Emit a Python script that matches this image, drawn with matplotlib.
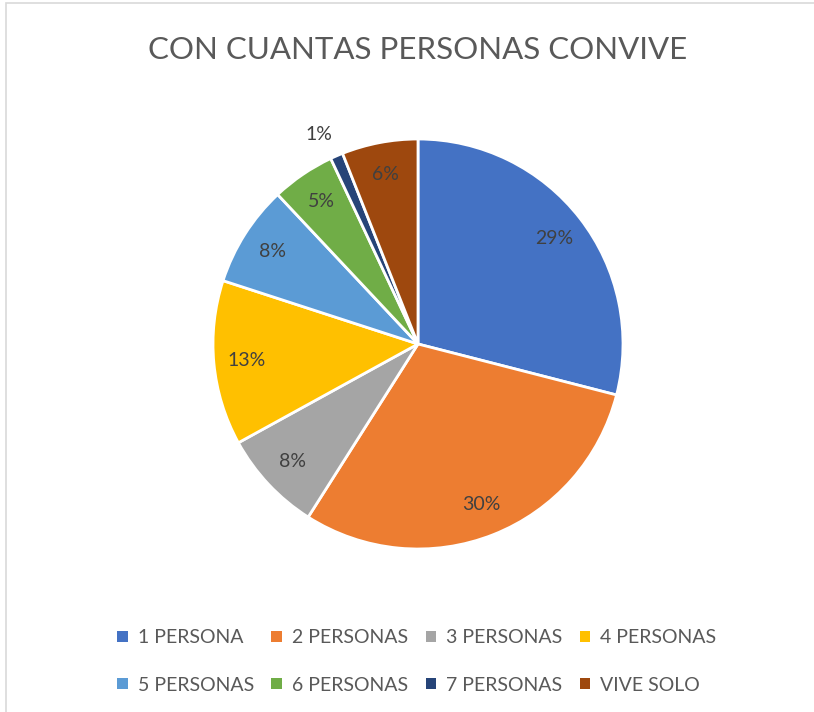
import matplotlib.pyplot as plt
from matplotlib.patches import Rectangle
import numpy as np

plt.rcParams['font.family'] = ['Lato', 'DejaVu Sans']

categorias = ['1 PERSONA', '2 PERSONAS', '3 PERSONAS', '4 PERSONAS',
              '5 PERSONAS', '6 PERSONAS', '7 PERSONAS', 'VIVE SOLO']
valores = [29, 30, 8, 13, 8, 5, 1, 6]
colores = ['#4472C4', '#ED7D31', '#A5A5A5', '#FFC000',
           '#5B9BD5', '#70AD47', '#264478', '#9E480E']

fig = plt.figure(figsize=(8.14, 7.12), dpi=100)
fig.patch.set_facecolor('white')

# marco gris del grafico
fig.patches.append(Rectangle((6 / 814, -0.01), 1.0, 1 - 3 / 712 + 0.01,
                             transform=fig.transFigure, fill=False,
                             edgecolor='#D9D9D9', linewidth=1.2))

ax = fig.add_axes([213 / 814, 163 / 712, 410 / 814, 410 / 712])
wedges, textos, pcts = ax.pie(valores, colors=colores, startangle=90,
                              counterclock=False, autopct='%1.0f%%',
                              pctdistance=0.84,
                              wedgeprops=dict(edgecolor='white', linewidth=2),
                              textprops=dict(color='#404040', fontsize=14))
ax.set_xlim(-1, 1)
ax.set_ylim(-1, 1)
ax.set_aspect('equal')

# la etiqueta de la porcion pequena va fuera
for w, t, v in zip(wedges, pcts, valores):
    if v < 2:
        ang = np.deg2rad((w.theta1 + w.theta2) / 2 + 2)
        t.set_position((1.13 * np.cos(ang), 1.13 * np.sin(ang)))

fig.text(0.513, 0.930, 'CON CUANTAS PERSONAS CONVIVE', ha='center', va='center',
         fontsize=22.5, color='#595959')

# orden por filas en la leyenda
orden = [0, 4, 1, 5, 2, 6, 3, 7]
leg = fig.legend([wedges[i] for i in orden], [categorias[i] for i in orden],
                 ncol=4, loc='center', bbox_to_anchor=(0.512, 0.071),
                 frameon=False, fontsize=14, handlelength=0.55, handleheight=0.55,
                 handletextpad=0.5, columnspacing=0.9, labelspacing=1.55,
                 labelcolor='#595959')
for h in leg.legend_handles:
    h.set_edgecolor('none')

fig.savefig('out.png', dpi=100)
